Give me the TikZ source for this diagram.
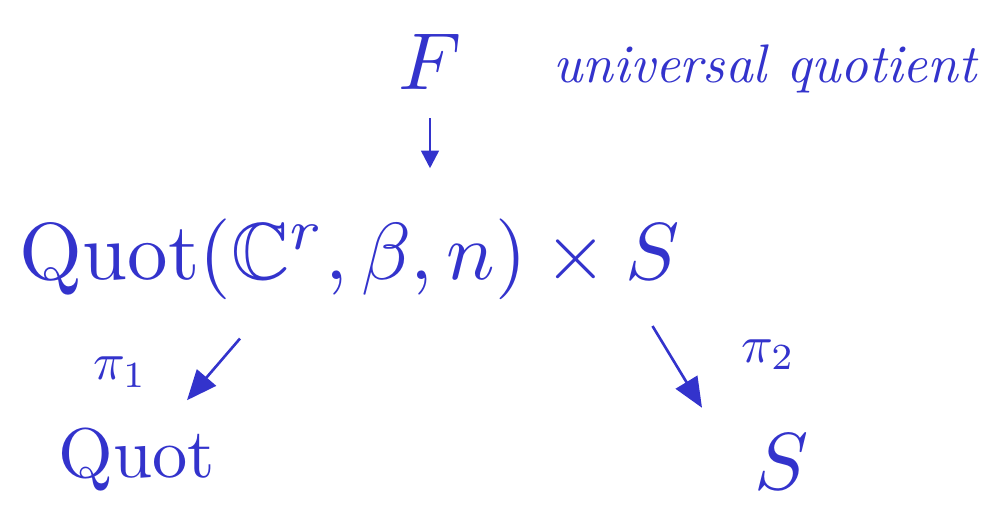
\documentclass[tikz,border=0pt]{standalone}
\usepackage{amsmath,amssymb}
\usepackage{tikz}
\usetikzlibrary{arrows.meta,positioning}

\definecolor{ink}{RGB}{51,51,204}

\begin{document}
\begin{tikzpicture}[
  big/.style={inner sep=0pt,text=ink,scale=4.6,transform shape},
  mid/.style={inner sep=0pt,text=ink,scale=4.0,transform shape},
  lbl/.style={inner sep=0pt,text=ink,scale=3.0,transform shape},
  arr/.style={-{Triangle[length=0.6cm,width=0.5cm]},line width=1.5pt,draw=ink},
  farr/.style={-{Triangle[length=0.35cm,width=0.35cm]},line width=1.5pt,draw=ink},
]
  \useasboundingbox (0,0) rectangle (19.94,10.38);

  % Top: sheaf and caption
  \node[big] (F) at (8.6,9.15) {$F$};
  \node[lbl,scale=1.03,font=\itshape] (cap) at (15.3,9.0) {universal quotient};

  % Product
  \node[big] (main) at (7.0,5.2) {$\mathrm{Quot}(\mathbb{C}^r,\beta,n)\times S$};

  % Factors
  \node[mid] (quot) at (2.74,1.18) {$\mathrm{Quot}$};
  \node[big] (s) at (15.64,1.14) {$S$};

  % Arrows
  \draw[farr] (F.south) ++(0,-0.55) coordinate (Ft) -- ([yshift=-1.0cm]Ft);
  \draw[arr] ([xshift=-2.2cm,yshift=-0.75cm]main.south) -- ([xshift=1.0cm,yshift=0.55cm]quot.north)
    node[lbl,pos=0.55,left=1.2cm] (p1) {$\pi_1$};
  \draw[arr] ([xshift=6.05cm,yshift=-0.5cm]main.south) -- ([xshift=-1.6cm,yshift=0.5cm]s.north)
    node[lbl,pos=0.35,right=1.35cm] (p2) {$\pi_2$};
\end{tikzpicture}
\end{document}
